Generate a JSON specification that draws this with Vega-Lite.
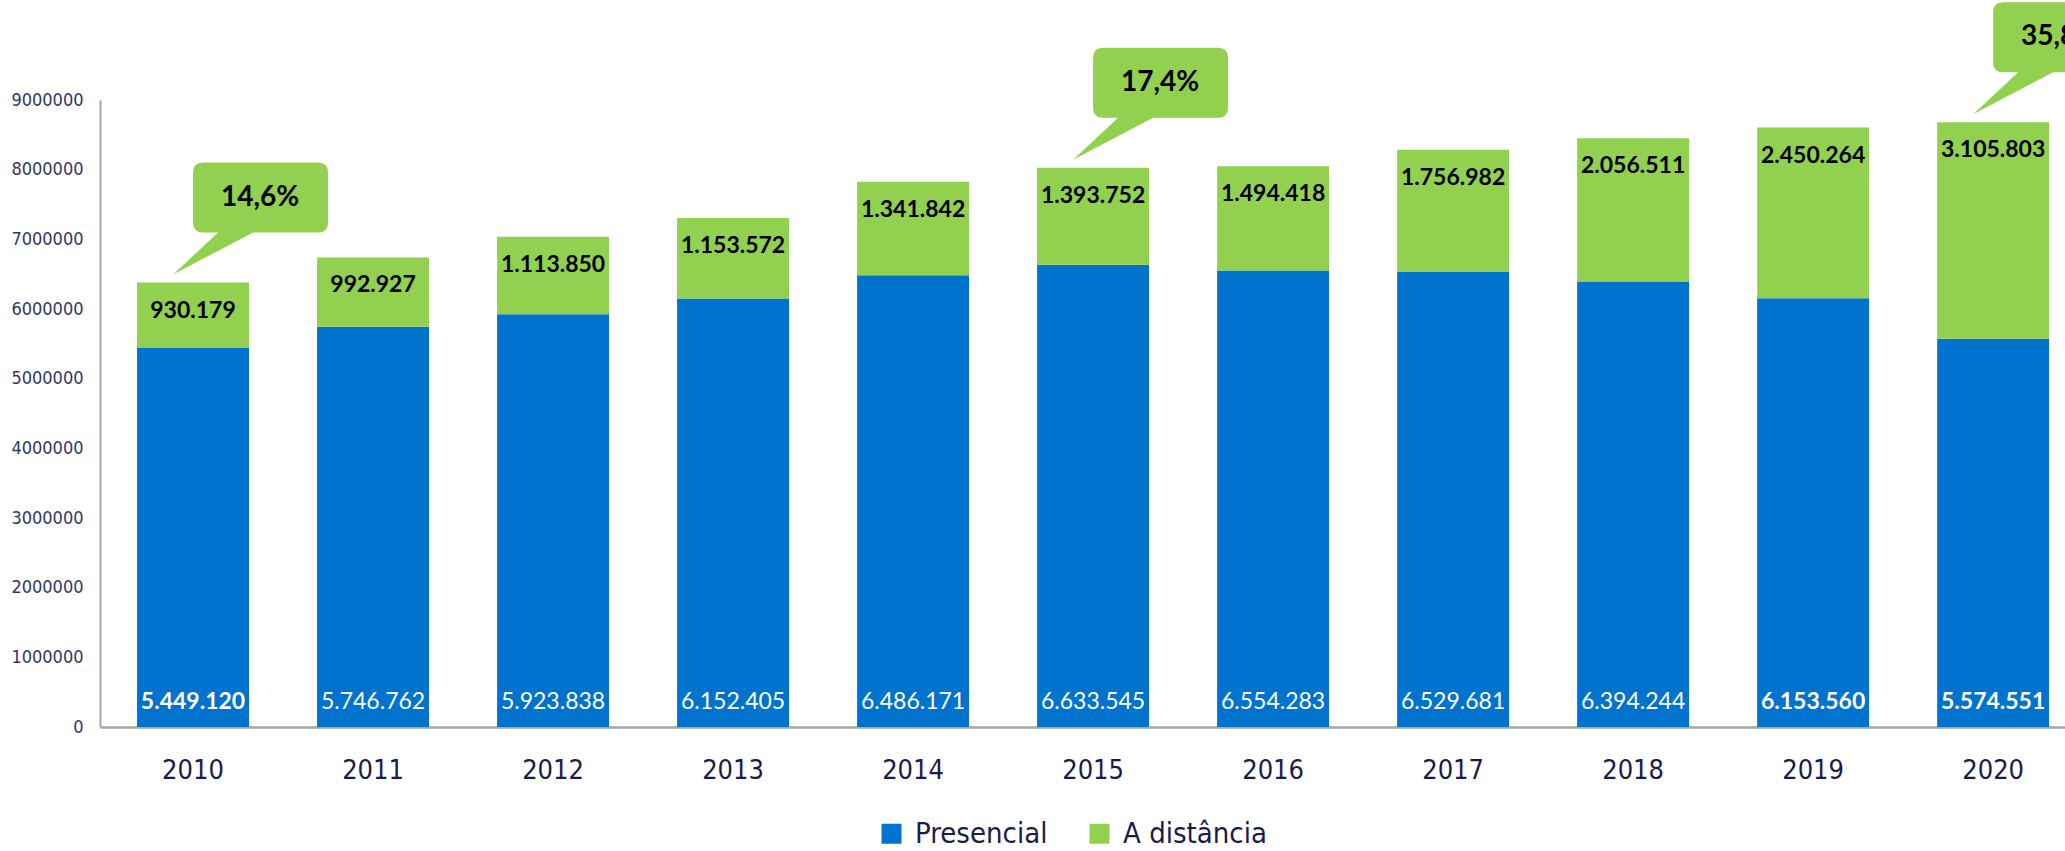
{
  "$schema": "https://vega.github.io/schema/vega-lite/v6.json",
  "autosize": {"type": "none"},
  "padding": {"left": 100, "top": 100, "right": 0, "bottom": 124},
  "width": 1965,
  "height": 627,
  "background": "white",
  "config": {
    "view": {"stroke": null},
    "locale": {"number": {"decimal": ",", "thousands": ".", "grouping": [3], "currency": ["R$", ""]}}
  },
  "data": {
    "values": [
      {"year": "2010", "type": "Presencial", "value": 5449120},
      {"year": "2010", "type": "A distância", "value": 930179, "share": "14,6%"},
      {"year": "2011", "type": "Presencial", "value": 5746762},
      {"year": "2011", "type": "A distância", "value": 992927},
      {"year": "2012", "type": "Presencial", "value": 5923838},
      {"year": "2012", "type": "A distância", "value": 1113850},
      {"year": "2013", "type": "Presencial", "value": 6152405},
      {"year": "2013", "type": "A distância", "value": 1153572},
      {"year": "2014", "type": "Presencial", "value": 6486171},
      {"year": "2014", "type": "A distância", "value": 1341842},
      {"year": "2015", "type": "Presencial", "value": 6633545},
      {"year": "2015", "type": "A distância", "value": 1393752, "share": "17,4%"},
      {"year": "2016", "type": "Presencial", "value": 6554283},
      {"year": "2016", "type": "A distância", "value": 1494418},
      {"year": "2017", "type": "Presencial", "value": 6529681},
      {"year": "2017", "type": "A distância", "value": 1756982},
      {"year": "2018", "type": "Presencial", "value": 6394244},
      {"year": "2018", "type": "A distância", "value": 2056511},
      {"year": "2019", "type": "Presencial", "value": 6153560},
      {"year": "2019", "type": "A distância", "value": 2450264},
      {"year": "2020", "type": "Presencial", "value": 5574551},
      {"year": "2020", "type": "A distância", "value": 3105803, "share": "35,8%"}
    ]
  },
  "transform": [
    {"stack": "value", "groupby": ["year"], "sort": [{"field": "type", "order": "descending"}], "as": ["y0", "y1"]}
  ],
  "encoding": {
    "x": {
      "field": "year", "type": "nominal",
      "scale": {"paddingInner": 0.378, "paddingOuter": 0.147, "align": 0.7},
      "axis": {
        "title": null, "labelAngle": 0, "ticks": false,
        "labelFont": "DejaVu Sans Condensed, sans-serif",
        "labelFontSize": 27, "labelColor": "#1b1b4b", "labelPadding": 30,
        "domainColor": "#a6a6a6", "domainWidth": 2.5
      }
    }
  },
  "layer": [
    {
      "mark": {"type": "bar"},
      "encoding": {
        "y": {
          "field": "y1", "type": "quantitative",
          "scale": {"domain": [0, 9000000], "nice": false},
          "axis": {
            "title": null, "grid": false, "ticks": false, "format": "d",
            "values": [0, 1000000, 2000000, 3000000, 4000000, 5000000, 6000000, 7000000, 8000000, 9000000],
            "labelFont": "DejaVu Sans Condensed, sans-serif",
            "labelFontSize": 18, "labelColor": "#34346a", "labelPadding": 17,
            "domainColor": "#a6a6a6", "domainWidth": 2
          }
        },
        "y2": {"field": "y0"},
        "color": {
          "field": "type", "type": "nominal",
          "scale": {"domain": ["Presencial", "A distância"], "range": ["#0073CF", "#92D050"]},
          "legend": {
            "title": null, "orient": "none", "legendX": 777, "legendY": 719,
            "direction": "horizontal", "symbolType": "square", "symbolSize": 400,
            "symbolStrokeWidth": 0, "symbolOpacity": 1,
            "labelFont": "DejaVu Sans Condensed, sans-serif",
            "labelFontSize": 29, "labelColor": "#1b1b4b", "labelOffset": 9, "columnPadding": 37,
            "labelLimit": 400
          }
        }
      }
    },
    {
      "transform": [{"filter": "datum.type == 'A distância'"}],
      "mark": {"type": "text", "font": "Lato", "fontWeight": "bold", "fontSize": 23, "color": "#000000", "baseline": "middle", "dy": 28},
      "encoding": {
        "y": {"field": "y1", "type": "quantitative"},
        "text": {"field": "value", "type": "quantitative", "format": ",d"}
      }
    },
    {
      "transform": [{"filter": "datum.type == 'Presencial' && (datum.year == '2010' || datum.year == '2019' || datum.year == '2020')"}],
      "mark": {"type": "text", "font": "Lato", "fontWeight": "bold", "fontSize": 23, "color": "#ffffff", "baseline": "middle", "dy": -25},
      "encoding": {
        "y": {"field": "y0", "type": "quantitative"},
        "text": {"field": "value", "type": "quantitative", "format": ",d"}
      }
    },
    {
      "transform": [{"filter": "datum.type == 'Presencial' && !(datum.year == '2010' || datum.year == '2019' || datum.year == '2020')"}],
      "mark": {"type": "text", "font": "Lato", "fontWeight": "normal", "fontSize": 23, "color": "#ffffff", "baseline": "middle", "dy": -25},
      "encoding": {
        "y": {"field": "y0", "type": "quantitative"},
        "text": {"field": "value", "type": "quantitative", "format": ",d"}
      }
    },
    {
      "transform": [{"filter": "datum.share != null"}],
      "mark": {
        "type": "point", "filled": true, "color": "#92D050", "opacity": 1, "strokeWidth": 0, "size": 40000,
        "shape": "M 0.1 -1.2 L 1.25 -1.2 Q 1.35 -1.2 1.35 -1.1 L 1.35 -0.6 Q 1.35 -0.5 1.25 -0.5 L 0.6 -0.5 L -0.2 -0.08 L 0.25 -0.5 L 0.1 -0.5 Q 0 -0.5 0 -0.6 L 0 -1.1 Q 0 -1.2 0.1 -1.2 Z"
      },
      "encoding": {
        "y": {"field": "y1", "type": "quantitative"}
      }
    },
    {
      "transform": [{"filter": "datum.share != null"}],
      "mark": {"type": "text", "font": "Lato", "fontWeight": "bold", "fontSize": 28, "color": "#000000", "baseline": "middle", "align": "center", "dx": 67, "dy": -85},
      "encoding": {
        "y": {"field": "y1", "type": "quantitative"},
        "text": {"field": "share", "type": "nominal"}
      }
    }
  ]
}
